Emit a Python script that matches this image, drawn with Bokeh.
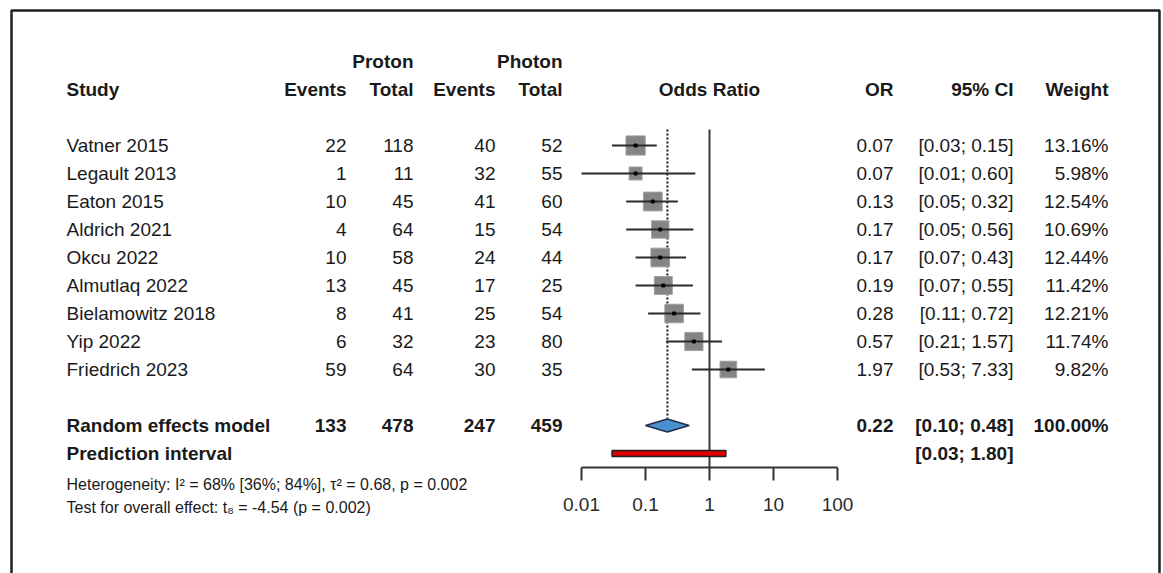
import math
from bokeh.plotting import figure
from bokeh.models import Range1d, LogScale, ColumnDataSource
from bokeh.embed import file_html
from bokeh.resources import INLINE
from bokeh.core.properties import value

# ---------------- data ----------------
studies = ["Vatner 2015", "Legault 2013", "Eaton 2015", "Aldrich 2021", "Okcu 2022",
           "Almutlaq 2022", "Bielamowitz 2018", "Yip 2022", "Friedrich 2023"]
proton_events = [22, 1, 10, 4, 10, 13, 8, 6, 59]
proton_total = [118, 11, 45, 64, 58, 45, 41, 32, 64]
photon_events = [40, 32, 41, 15, 24, 17, 25, 23, 30]
photon_total = [52, 55, 60, 54, 44, 25, 54, 80, 35]
odds_ratio = [0.07, 0.07, 0.13, 0.17, 0.17, 0.19, 0.28, 0.57, 1.97]
ci_lower = [0.03, 0.01, 0.05, 0.05, 0.07, 0.07, 0.11, 0.21, 0.53]
ci_upper = [0.15, 0.60, 0.32, 0.56, 0.43, 0.55, 0.72, 1.57, 7.33]
weights = [13.16, 5.98, 12.54, 10.69, 12.44, 11.42, 12.21, 11.74, 9.82]

pooled_label = "Random effects model"
pooled_events = [133, 478, 247, 459]
pooled_or = 0.22
pooled_lower = 0.10
pooled_upper = 0.48
pooled_weight = 100.00

pred_label = "Prediction interval"
pred_lower = 0.03
pred_upper = 1.80

axis_ticks = [0.01, 0.1, 1, 10, 100]
axis_tick_labels = ["0.01", "0.1", "1", "10", "100"]

group_labels = ["Proton", "Photon"]
col_headers = ["Study", "Events", "Total", "Events", "Total", "Odds Ratio", "OR", "95% CI", "Weight"]
het_text = "Heterogeneity: I\u00b2 = 68% [36%; 84%], \u03c4\u00b2 = 0.68, p = 0.002"
test_text = "Test for overall effect: t\u2088 = -4.54 (p = 0.002)"

# ---------------- layout ----------------
W, H = 1163, 573
FONT = value("Liberation Sans")
FS = "19px"
TXT = "#1a1a1a"

x_or1 = 709.0      # pixel of OR = 1
decade = 64.0      # pixels per decade
or_start = 10 ** ((0 - x_or1) / decade)
or_end = 10 ** ((W - x_or1) / decade)

row0 = 145.0
step = 28.0
n = len(studies)
ys = [row0 + i * step for i in range(n)]
y_pool = row0 + (n + 1) * step
y_pred = y_pool + step
y_axis = y_pred + 14
y_hdr = row0 - 2 * step
y_grp = y_hdr - step

p = figure(width=W, height=H, x_range=Range1d(0, W), y_range=Range1d(H, 0),
           output_backend="svg", toolbar_location=None, min_border=0,
           x_axis_type=None, y_axis_type=None)
p.grid.visible = False
p.outline_line_color = None
p.background_fill_color = "white"
p.border_fill_color = "white"
p.extra_x_ranges = {"or": Range1d(or_start, or_end)}
p.extra_x_scales = {"or": LogScale()}

# frame
p.line(x=[11, 11, 1159, 1159], y=[H + 5, 10, 10, H + 5], line_color="#202020", line_width=2.5)


def txt(xs, ys_, texts, align="left", bold=False, size=FS, color=TXT):
    src = ColumnDataSource(dict(x=xs, y=ys_, t=texts))
    p.text(x="x", y="y", text="t", source=src, text_align=align, text_baseline="middle",
           text_font=FONT, text_font_size=size, text_font_style="bold" if bold else "normal",
           text_color=color)


# headers
txt([413, 562], [y_grp, y_grp], group_labels, align="right", bold=True)
txt([66], [y_hdr], [col_headers[0]], bold=True)
txt([346, 413, 495, 562], [y_hdr] * 4, col_headers[1:5], align="right", bold=True)
txt([x_or1], [y_hdr], [col_headers[5]], align="center", bold=True)
txt([893, 1013, 1108], [y_hdr] * 3, col_headers[6:9], align="right", bold=True)

# study rows
txt([66] * n, ys, studies)
txt([346] * n, ys, [str(v) for v in proton_events], align="right")
txt([413] * n, ys, [str(v) for v in proton_total], align="right")
txt([495] * n, ys, [str(v) for v in photon_events], align="right")
txt([562] * n, ys, [str(v) for v in photon_total], align="right")
txt([893] * n, ys, [f"{v:.2f}" for v in odds_ratio], align="right")
txt([1013] * n, ys, [f"[{a:.2f}; {b:.2f}]" for a, b in zip(ci_lower, ci_upper)], align="right")
txt([1108] * n, ys, [f"{w:.2f}%" for w in weights], align="right")

# pooled rows
txt([66], [y_pool], [pooled_label], bold=True)
txt([346, 413, 495, 562], [y_pool] * 4, [str(v) for v in pooled_events], align="right", bold=True)
txt([893], [y_pool], [f"{pooled_or:.2f}"], align="right", bold=True)
txt([1013], [y_pool], [f"[{pooled_lower:.2f}; {pooled_upper:.2f}]"], align="right", bold=True)
txt([1108], [y_pool], [f"{pooled_weight:.2f}%"], align="right", bold=True)
txt([66], [y_pred], [pred_label], bold=True)
txt([1013], [y_pred], [f"[{pred_lower:.2f}; {pred_upper:.2f}]"], align="right", bold=True)

# heterogeneity
txt([66], [484], [het_text], size="16px")
txt([66], [507], [test_text], size="16px")

# reference lines
p.segment(x0=[1], x1=[1], y0=[row0 - 16], y1=[y_axis], x_range_name="or",
          line_color="#3a3a3a", line_width=2)
p.segment(x0=[pooled_or], x1=[pooled_or], y0=[row0 - 16], y1=[y_pool - 7], x_range_name="or",
          line_color="#1a1a1a", line_width=2, line_dash="2 2")

# study squares, CI lines, point marks
src = ColumnDataSource(dict(orv=odds_ratio, lo=ci_lower, hi=ci_upper, y=ys,
                            sz=[5.3 * math.sqrt(w) for w in weights]))
p.scatter(x="orv", y="y", size="sz", marker="square", source=src, x_range_name="or",
          fill_color="#858585", line_color="#a0a0a0", line_width=1)
p.segment(x0="lo", x1="hi", y0="y", y1="y", source=src, x_range_name="or",
          line_color="#2a2a2a", line_width=2)
p.scatter(x="orv", y="y", size=3, marker="square", source=src, x_range_name="or",
          fill_color="black", line_color="black")

# diamond
dh = 6.5
p.patch(x=[pooled_lower, pooled_or, pooled_upper, pooled_or],
        y=[y_pool, y_pool - dh, y_pool, y_pool + dh], x_range_name="or",
        fill_color="#4a8fd0", line_color="#1e2d4a", line_width=1.5)

# prediction interval
p.quad(left=[pred_lower], right=[pred_upper], top=[y_pred - 3], bottom=[y_pred + 3],
       x_range_name="or", fill_color="#dd0000", line_color="#222222", line_width=1.5)

# x axis
p.segment(x0=[axis_ticks[0]], x1=[axis_ticks[-1]], y0=[y_axis], y1=[y_axis], x_range_name="or",
          line_color="#333333", line_width=2)
p.segment(x0=axis_ticks, x1=axis_ticks, y0=[y_axis] * len(axis_ticks),
          y1=[y_axis + 13] * len(axis_ticks), x_range_name="or", line_color="#333333", line_width=2)
tsrc = ColumnDataSource(dict(x=axis_ticks, y=[504] * len(axis_ticks), t=axis_tick_labels))
p.text(x="x", y="y", text="t", source=tsrc, x_range_name="or", text_align="center",
       text_baseline="middle", text_font=FONT, text_font_size=FS, text_color="#2a2a2a")

open("out.html", "w").write(file_html(p, INLINE))
